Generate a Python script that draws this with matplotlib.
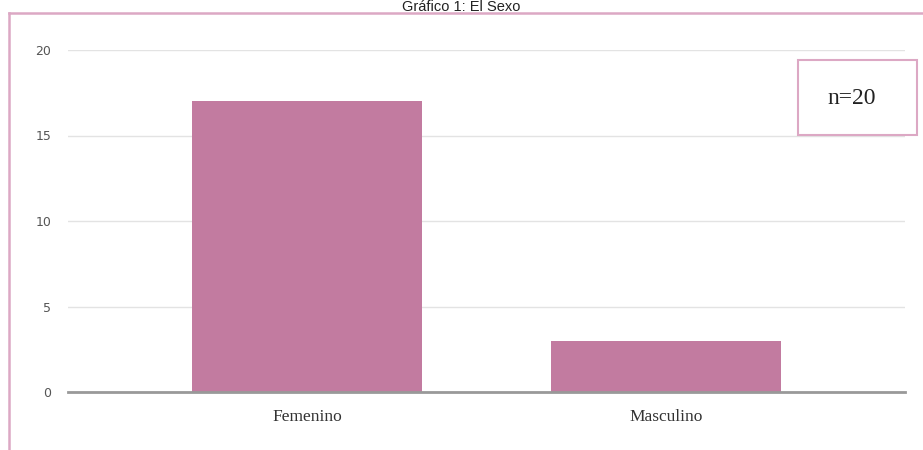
import matplotlib.pyplot as plt
from matplotlib.patches import Rectangle
from matplotlib.lines import Line2D

categorias = ['Femenino', 'Masculino']
valores = [17, 3]
ticks_y = [0, 5, 10, 15, 20]
titulo = 'Gráfico 1: El Sexo'
nota = 'n=20'

W, H = 923, 450
fig = plt.figure(figsize=(W / 100, H / 100), dpi=100)

def px(x, y):
    # pixel coords (top-left origin) -> figure fraction
    return x / W, 1 - y / H

# marco rosa (solo arriba e izquierda)
rosa = '#dca8c4'
x0, y0 = px(9, 13)
fig.add_artist(Line2D([x0, 1.0], [y0, y0], color=rosa, lw=1.8, transform=fig.transFigure))
fig.add_artist(Line2D([x0, x0], [0, y0], color=rosa, lw=1.8, transform=fig.transFigure))

# titulo pegado al borde superior
tx, ty = px(461, 0)
fig.text(tx, ty, titulo, ha='center', va='top', fontsize=10.5,
         family='Liberation Sans', color='#222222')

l, t = px(68, 50)
r, b = px(905, 392)
ax = fig.add_axes([l, b, r - l, t - b])

x = range(len(categorias))
ax.bar(x, valores, width=0.64, color='#c27ba0', zorder=3)

ax.set_xlim(-0.665, 1.665)
ax.set_ylim(0, 20)
ax.set_yticks(ticks_y)
ax.set_xticks(list(x))
ax.set_xticklabels(categorias, family='Liberation Serif', fontsize=12.5,
                   color='#333333')
ax.tick_params(axis='y', labelsize=9, labelcolor='#555555', length=0, pad=12)
ax.tick_params(axis='x', length=0, pad=12)
ax.grid(axis='y', color='#e3e3e3', lw=1, zorder=0)
for s in ['top', 'right', 'left']:
    ax.spines[s].set_visible(False)
ax.spines['bottom'].set_color('#999999')
ax.spines['bottom'].set_linewidth(2)
ax.spines['bottom'].set_zorder(4)

# recuadro n=20
bx, by = px(798, 135)
bw, bh = 119 / W, 75 / H
fig.add_artist(Rectangle((bx, by), bw, bh, transform=fig.transFigure,
                         fill=True, facecolor='white', edgecolor=rosa, lw=1.5,
                         zorder=5))
nx, ny = px(852, 99)
fig.text(nx, ny, nota, ha='center', va='center', fontsize=17,
         family='Liberation Serif', color='#222222', zorder=6)

fig.savefig('out.png', dpi=100)
